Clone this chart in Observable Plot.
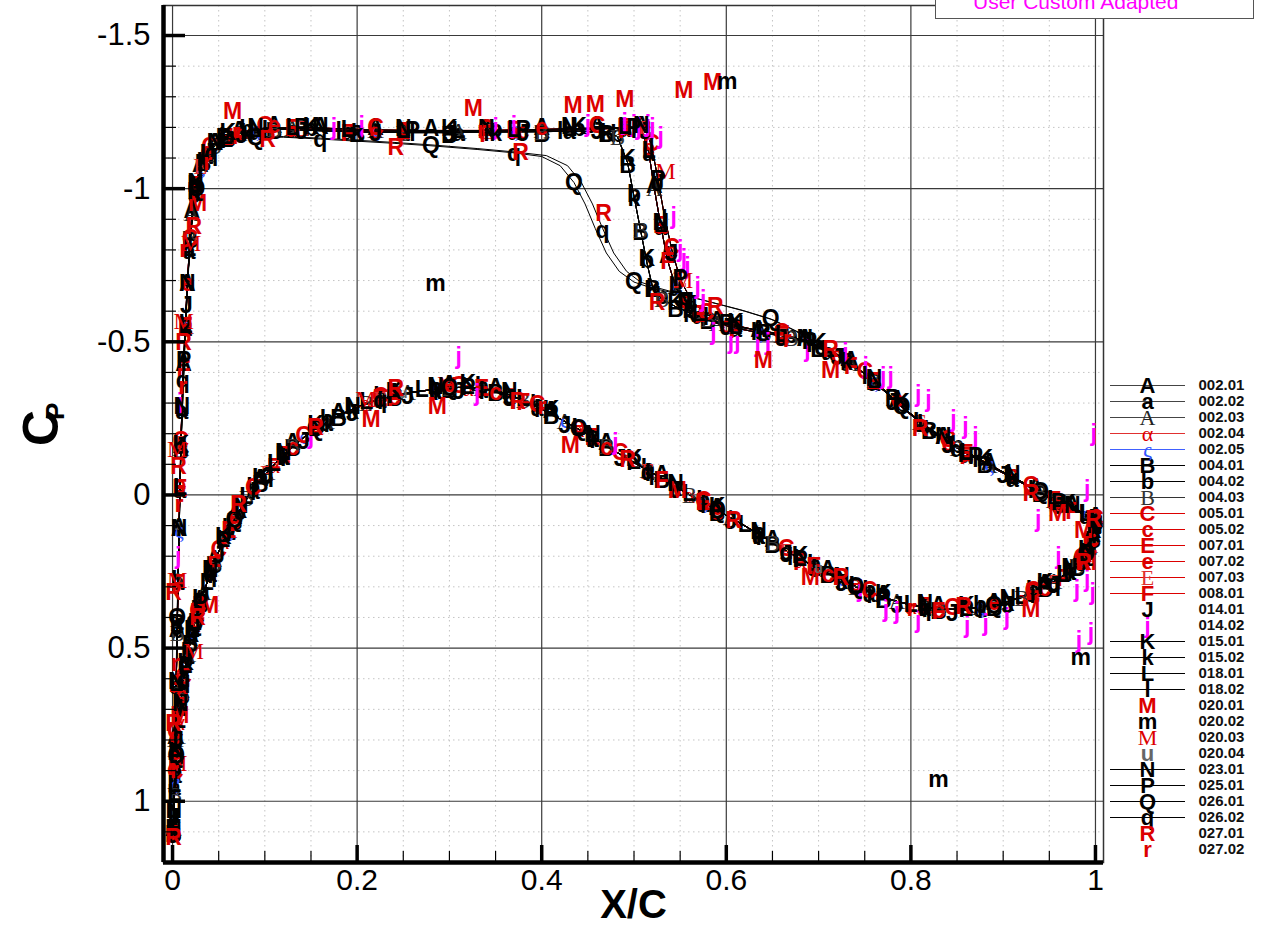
<!DOCTYPE html>
<html>
<head>
<meta charset="utf-8">
<script src="https://cdn.jsdelivr.net/npm/d3@7"></script>
<script src="https://cdn.jsdelivr.net/npm/@observablehq/plot@0.6"></script>
<style>
  html, body { margin: 0; padding: 0; background: #fff; }
  #wrap { position: relative; width: 1268px; height: 936px; overflow: hidden; font-family: "Liberation Sans", Arial, sans-serif; }
  #main { position: absolute; left: 0; top: 0; }
  #legend { position: absolute; left: 1104px; top: 360px; }
  #titlebox { position: absolute; left: 935px; top: -22px; width: 317px; height: 39px; border: 1.5px solid #555; background: #fff; }
  #titlebox span { position: absolute; left: 37px; top: 12px; font-size: 21px; line-height: 21px; color: #ff00ff; white-space: nowrap; }
</style>
</head>
<body>
<div id="wrap">
  <div id="main"></div>
  <div id="titlebox"><span>User Custom Adapted</span></div>
  <div id="legend"></div>
</div>
<script>
// ---- Axis ticks ----
const xMajor = [0, 0.2, 0.4, 0.6, 0.8, 1];
const yMajor = [-1.5, -1, -0.5, 0, 0.5, 1];
const xMinor = d3.range(0, 21).filter(k => k % 4 !== 0).map(k => k / 20);
const yMinor = d3.range(-15, 12).filter(k => k % 5 !== 0).map(k => k / 10);
const xDomain = [-0.0098, 1.0087];
const yDomain = [1.2, -1.598];

// ---- Data zones ----
const seriesNames = ["002.01","002.02","002.03","002.04","002.05","004.01","004.02","004.03","005.01","005.02",
  "007.01","007.02","007.03","008.01","014.01","014.02","015.01","015.02","018.01","018.02",
  "020.01","020.02","020.03","020.04","023.01","025.01","026.01","026.02","027.01","027.02"];
const seriesGlyphs = ["A","a","A","α","ς","B","b","B","C","c","E","e","E","F","J","j","K","k","L","l",
  "M","m","M","u","N","P","Q","q","R","r"];

// upper surface, shock near x/c = 0.52
const upperMainX = [0.001,0.002,0.003,0.004,0.005,0.006,0.007,0.008,0.009,0.010,0.012,0.014,0.016,0.018,0.021,0.025,0.030,0.037,0.046,0.058,0.072,0.09,0.11,0.13,0.16,0.19,0.22,0.25,0.28,0.31,0.34,0.37,0.40,0.43,0.46,0.49,0.508,0.516,0.522,0.529,0.536,0.545,0.556,0.57,0.59,0.61,0.635,0.66,0.685,0.71,0.735,0.76,0.785,0.81,0.835,0.86,0.885,0.91,0.935,0.955,0.975,0.99,1.0];
const upperMainCp = [1.10,0.95,0.80,0.62,0.45,0.28,0.12,-0.02,-0.15,-0.28,-0.42,-0.55,-0.68,-0.80,-0.92,-1.01,-1.07,-1.11,-1.14,-1.165,-1.18,-1.19,-1.197,-1.196,-1.193,-1.19,-1.188,-1.187,-1.187,-1.186,-1.187,-1.188,-1.19,-1.192,-1.195,-1.198,-1.195,-1.12,-1.0,-0.88,-0.77,-0.68,-0.62,-0.59,-0.56,-0.545,-0.53,-0.52,-0.50,-0.47,-0.43,-0.37,-0.30,-0.235,-0.18,-0.135,-0.095,-0.055,-0.015,0.02,0.045,0.065,0.08];

// lower surface, two samplings
const lowerMainX = [0.001,0.002,0.004,0.007,0.010,0.014,0.019,0.024,0.030,0.037,0.045,0.055,0.067,0.08,0.095,0.11,0.13,0.155,0.18,0.21,0.24,0.27,0.30,0.32,0.35,0.38,0.41,0.44,0.47,0.50,0.53,0.56,0.59,0.62,0.65,0.68,0.71,0.74,0.77,0.80,0.83,0.86,0.89,0.92,0.945,0.965,0.98,0.99,0.997,1.0];
const lowerMainCp = [1.10,0.98,0.85,0.74,0.65,0.56,0.48,0.42,0.35,0.29,0.22,0.15,0.08,0.01,-0.045,-0.10,-0.16,-0.215,-0.26,-0.30,-0.325,-0.34,-0.35,-0.352,-0.342,-0.31,-0.265,-0.215,-0.16,-0.105,-0.055,0.0,0.05,0.10,0.155,0.21,0.255,0.30,0.335,0.36,0.372,0.374,0.36,0.335,0.30,0.265,0.23,0.19,0.14,0.08];
const lowerAltX = [0.0015,0.003,0.0055,0.0085,0.012,0.0165,0.0215,0.027,0.0335,0.041,0.05,0.061,0.0735,0.0875,0.1025,0.12,0.142,0.167,0.195,0.225,0.255,0.285,0.31,0.335,0.365,0.395,0.425,0.455,0.485,0.515,0.545,0.575,0.605,0.635,0.665,0.695,0.725,0.755,0.785,0.815,0.845,0.875,0.905,0.932,0.955,0.972,0.985,0.994,0.999];
const lowerAltCp = [1.04,0.91,0.79,0.69,0.60,0.52,0.45,0.385,0.32,0.255,0.185,0.115,0.045,-0.018,-0.073,-0.13,-0.188,-0.238,-0.28,-0.313,-0.333,-0.345,-0.351,-0.348,-0.327,-0.288,-0.24,-0.188,-0.133,-0.08,-0.028,0.025,0.075,0.128,0.183,0.233,0.278,0.318,0.348,0.366,0.374,0.368,0.348,0.318,0.283,0.248,0.21,0.165,0.11];

// upper surface, early shock (x/c ~ 0.44)
const upperEarlyX = [0.001,0.003,0.005,0.008,0.011,0.015,0.02,0.026,0.033,0.042,0.055,0.07,0.09,0.12,0.16,0.2,0.24,0.28,0.33,0.37,0.4,0.42,0.435,0.447,0.458,0.47,0.484,0.5,0.52,0.55,0.58,0.615,0.648,0.675,0.7,0.73,0.76,0.79,0.82,0.85,0.88,0.91,0.94,0.97,1.0];
const upperEarlyCp = [1.10,0.76,0.40,0.0,-0.36,-0.62,-0.86,-1.0,-1.07,-1.115,-1.145,-1.16,-1.168,-1.168,-1.162,-1.155,-1.148,-1.14,-1.128,-1.117,-1.105,-1.075,-1.02,-0.95,-0.87,-0.79,-0.73,-0.695,-0.675,-0.655,-0.632,-0.605,-0.575,-0.535,-0.49,-0.44,-0.372,-0.29,-0.215,-0.155,-0.105,-0.06,-0.01,0.04,0.08];
const upperEarly2X = [0.001,0.003,0.005,0.008,0.011,0.015,0.02,0.026,0.033,0.042,0.055,0.07,0.09,0.12,0.16,0.2,0.24,0.28,0.33,0.37,0.405,0.428,0.443,0.455,0.466,0.478,0.492,0.507,0.527,0.555,0.585,0.62,0.652,0.678,0.703,0.73,0.76,0.79,0.82,0.85,0.88,0.91,0.94,0.97,1.0];
const upperEarly2Cp = [1.10,0.74,0.38,-0.02,-0.38,-0.64,-0.87,-1.01,-1.075,-1.12,-1.15,-1.163,-1.17,-1.17,-1.165,-1.158,-1.151,-1.143,-1.131,-1.12,-1.108,-1.075,-1.02,-0.95,-0.87,-0.79,-0.73,-0.695,-0.675,-0.652,-0.628,-0.6,-0.57,-0.532,-0.488,-0.44,-0.372,-0.29,-0.215,-0.155,-0.105,-0.06,-0.01,0.04,0.08];

// upper surface, shock near x/c = 0.50
const upperMidX = [0.001,0.005,0.009,0.014,0.019,0.025,0.033,0.045,0.06,0.08,0.11,0.15,0.2,0.25,0.3,0.35,0.4,0.44,0.47,0.482,0.493,0.5,0.507,0.514,0.52,0.53,0.545,0.56,0.58,0.61,0.64,0.67,0.7,0.73,0.76,0.79,0.82,0.85,0.88,0.91,0.94,0.97,1.0];
const upperMidCp = [1.10,0.45,-0.15,-0.55,-0.84,-1.0,-1.09,-1.14,-1.17,-1.185,-1.195,-1.19,-1.185,-1.183,-1.183,-1.185,-1.186,-1.188,-1.185,-1.17,-1.085,-0.975,-0.866,-0.758,-0.68,-0.64,-0.615,-0.595,-0.575,-0.55,-0.535,-0.515,-0.485,-0.44,-0.375,-0.29,-0.215,-0.155,-0.105,-0.06,-0.01,0.04,0.08];

// upper surface, shock near x/c = 0.53
const upperLateX = [0.001,0.003,0.005,0.007,0.009,0.012,0.015,0.019,0.024,0.03,0.04,0.055,0.075,0.1,0.14,0.18,0.22,0.26,0.3,0.34,0.38,0.42,0.46,0.5,0.512,0.519,0.526,0.533,0.541,0.55,0.562,0.578,0.6,0.63,0.66,0.69,0.72,0.75,0.78,0.81,0.84,0.87,0.9,0.93,0.96,0.985,1.0];
const upperLateCp = [1.10,0.78,0.42,0.10,-0.17,-0.44,-0.63,-0.83,-0.99,-1.075,-1.13,-1.165,-1.185,-1.198,-1.2,-1.196,-1.192,-1.19,-1.19,-1.19,-1.192,-1.195,-1.198,-1.2,-1.2,-1.14,-1.03,-0.91,-0.8,-0.705,-0.635,-0.59,-0.56,-0.54,-0.525,-0.5,-0.46,-0.395,-0.315,-0.24,-0.175,-0.125,-0.075,-0.025,0.025,0.055,0.085];

// scattered zones (symbols only)
const jX = [0.175,0.205,0.35,0.37,0.45,0.49,0.5,0.505,0.515,0.52,0.529,0.543,0.55,0.554,0.558,0.569,0.575,0.586,0.605,0.612,0.634,0.645,0.688,0.729,0.751,0.77,0.778,0.808,0.819,0.846,0.859,0.87,0.938,0.96,0.98,0.991,0.997,0.998,0.991,0.982,0.995,0.745,0.773,0.785,0.808,0.861,0.881,0.904,0.31,0.15,0.48,0.33,0.006,0.008];
const jCp = [-1.2,-1.205,-1.2,-1.205,-1.21,-1.215,-1.21,-1.2,-1.21,-1.2,-1.17,-0.91,-0.8,-0.77,-0.745,-0.68,-0.637,-0.53,-0.5,-0.5,-0.49,-0.497,-0.474,-0.464,-0.418,-0.386,-0.386,-0.327,-0.31,-0.245,-0.222,-0.19,0.082,0.2,0.31,0.278,0.32,-0.2,-0.016,0.474,0.45,0.31,0.376,0.38,0.41,0.425,0.42,0.4,-0.45,-0.19,-0.17,-0.33,0.2,-0.3];

const mBigX = [0.027,0.065,0.326,0.434,0.458,0.49,0.554,0.585,0.64,0.713,0.215,0.287,0.431,0.547,0.691,0.959,0.987,0.991,0.93,0.008,0.04];
const mBigCp = [-0.95,-1.25,-1.26,-1.27,-1.275,-1.29,-1.32,-1.345,-0.44,-0.405,-0.245,-0.29,-0.16,-0.015,0.27,0.06,0.115,0.22,0.376,0.72,0.36];

const mSmallX = [0.601,0.285,0.83,0.984];
const mSmallCp = [-1.35,-0.69,0.93,0.53];

const mSerifX = [0.534,0.553,0.209,0.298,0.012,0.005,0.005,0.023,0.005,0.02];
const mSerifCp = [-1.055,-0.7,-0.31,-0.36,-0.565,-0.147,0.28,0.51,0.876,-0.82];

const uX = [0.004,0.25,0.7];
const uCp = [0.1,-0.33,0.24];

const rBigX = [0.023,0.012,0.0065,0.103,0.242,0.377,0.467,0.525,0.588,0.713,0.81,0.93,0.998,0.0715,0.155,0.242,0.374,0.493,0.608,0.724,0.857,0.987,0.001,0.027,0.001,0.001];
const rBigCp = [-0.876,-0.497,-0.092,-1.16,-1.135,-1.118,-0.92,-0.627,-0.615,-0.474,-0.215,-0.005,0.08,0.033,-0.22,-0.346,-0.304,-0.114,0.085,0.27,0.366,0.22,0.32,0.4,0.745,1.12];

const rSmallX = [0.038,0.012,0.011,0.007,0.003,0.002,0.666,0.335,0.4,0.8];
const rSmallCp = [-1.085,-0.8,-0.353,0.03,0.55,0.9,-0.506,-1.19,-0.29,0.37];

// ---- Drawing styles per zone (fill, font, line colour, which curves, symbol spacing, pixel nudge) ----
const RED = "#dc0000", MAG = "#ff00ff", BLUE = "#3355ff";
const SANS = "Liberation Sans, Arial, sans-serif";
const SERIF = "Liberation Serif, Times New Roman, serif";
const zoneStyle = {
  "002.01": {fill: "#000", font: "sans", line: "#444", curve: "main", lower: "main", stride: 2, off: 0, nudge: -3},
  "002.02": {fill: "#000", font: "sans", line: "#444", curve: "main", lower: "alt", stride: 2, off: 1, nudge: 2},
  "002.03": {fill: "#222", font: "serif", line: "#444", curve: "main", lower: "alt", stride: 3, off: 2, nudge: 0},
  "002.04": {fill: RED, font: "serif", line: "#e03030", curve: "main", lower: "main", stride: 4, off: 3, nudge: 1},
  "002.05": {fill: BLUE, font: "serif", line: "#4060ff", curve: "main", lower: "alt", stride: 5, off: 1, nudge: -1},
  "004.01": {fill: "#000", font: "sans", line: "#000", curve: "mid", lower: "main", stride: 2, off: 0, nudge: 3},
  "004.02": {fill: "#000", font: "sans", line: "#000", curve: "mid", lower: "alt", stride: 2, off: 1, nudge: -2},
  "004.03": {fill: "#333", font: "serif", line: "#333", curve: "mid", lower: "main", stride: 3, off: 1, nudge: 1},
  "005.01": {fill: RED, font: "sans", line: RED, curve: "late", lower: "alt", stride: 3, off: 1, nudge: -2},
  "005.02": {fill: RED, font: "sans", line: RED, curve: "late", lower: "main", stride: 4, off: 0, nudge: 2},
  "007.01": {fill: RED, font: "sans", line: RED, curve: "main", lower: "alt", stride: 4, off: 3, nudge: 0},
  "007.02": {fill: RED, font: "sans", line: RED, curve: "main", lower: "main", stride: 5, off: 2, nudge: -3},
  "007.03": {fill: "#e03030", font: "serif", line: RED, curve: "late", lower: "alt", stride: 5, off: 4, nudge: 1},
  "008.01": {fill: RED, font: "sans", line: RED, curve: "main", lower: "main", stride: 5, off: 0, nudge: 3},
  "014.01": {fill: "#000", font: "sans", line: null, curve: "late", lower: "alt", stride: 2, off: 0, nudge: 4},
  "014.02": {fill: MAG, font: "sans", line: null, xs: jX, cps: jCp},
  "015.01": {fill: "#000", font: "sans", line: "#000", curve: "mid", lower: "main", stride: 3, off: 2, nudge: -4},
  "015.02": {fill: "#000", font: "sans", line: "#000", curve: "mid", lower: "alt", stride: 3, off: 0, nudge: 2},
  "018.01": {fill: "#000", font: "sans", line: "#000", curve: "main", lower: "main", stride: 2, off: 1, nudge: -1},
  "018.02": {fill: "#000", font: "sans", line: "#000", curve: "late", lower: "alt", stride: 2, off: 1, nudge: 3},
  "020.01": {fill: RED, font: "sans", line: null, xs: mBigX, cps: mBigCp},
  "020.02": {fill: "#000", font: "sans", line: null, xs: mSmallX, cps: mSmallCp},
  "020.03": {fill: RED, font: "serif", line: null, xs: mSerifX, cps: mSerifCp},
  "020.04": {fill: "#666", font: "sans", line: null, xs: uX, cps: uCp, size: 14},
  "023.01": {fill: "#000", font: "sans", line: "#000", curve: "main", lower: "alt", stride: 3, off: 0, nudge: -3},
  "025.01": {fill: "#000", font: "sans", line: "#000", curve: "late", lower: "main", stride: 3, off: 2, nudge: 0},
  "026.01": {fill: "#000", font: "sans", line: "#000", curve: "early", lower: "main", stride: 5, off: 2, nudge: 0},
  "026.02": {fill: "#000", font: "sans", line: "#000", curve: "early2", lower: "alt", stride: 5, off: 4, nudge: 2},
  "027.01": {fill: RED, font: "sans", line: null, xs: rBigX, cps: rBigCp},
  "027.02": {fill: RED, font: "sans", line: null, xs: rSmallX, cps: rSmallCp}
};

const upperCurves = {
  main: [upperMainX, upperMainCp], early: [upperEarlyX, upperEarlyCp], early2: [upperEarly2X, upperEarly2Cp],
  mid: [upperMidX, upperMidCp], late: [upperLateX, upperLateCp]
};
const lowerCurves = {main: [lowerMainX, lowerMainCp], alt: [lowerAltX, lowerAltCp]};
const toPoints = ([xs, cps]) => xs.map((x, i) => ({x, cp: cps[i], i}));

const W = 1268, H = 936, ML = 163, MR = 165, MT = 5, MB = 74;
const innerW = W - ML - MR, innerH = H - MT - MB;

const lineMarks = [], glyphMarks = [];
seriesNames.forEach((name, s) => {
  const st = zoneStyle[name];
  const glyph = seriesGlyphs[s];
  const textOpts = {
    x: "x", y: "cp", text: () => glyph, fill: st.fill,
    fontSize: st.size || 23,
    dy: st.nudge || 0,
    fontFamily: st.font === "serif" ? SERIF : SANS,
    fontWeight: st.font === "serif" ? "normal" : "bold"
  };
  if (st.curve) {
    const up = toPoints(upperCurves[st.curve]);
    const lo = toPoints(lowerCurves[st.lower]);
    if (st.line) {
      lineMarks.push(Plot.line(up, {x: "x", y: "cp", stroke: st.line, strokeWidth: 1}));
      lineMarks.push(Plot.line(lo, {x: "x", y: "cp", stroke: st.line, strokeWidth: 1}));
    }
    const pick = d => d.i % st.stride === st.off;
    glyphMarks.push(Plot.text(up.filter(pick).concat(lo.filter(pick)), textOpts));
  } else {
    glyphMarks.push(Plot.text(toPoints([st.xs, st.cps]), textOpts));
  }
});

const chart = Plot.plot({
  width: W, height: H,
  marginLeft: ML, marginRight: MR, marginTop: MT, marginBottom: MB,
  x: {domain: xDomain, axis: null},
  y: {domain: yDomain, axis: null},
  style: {fontFamily: SANS, background: "transparent", overflow: "visible"},
  marks: [
    Plot.ruleX(xMinor, {stroke: "#c4c4c4", strokeDasharray: "1.5,3.5"}),
    Plot.ruleY(yMinor, {stroke: "#c4c4c4", strokeDasharray: "1.5,3.5"}),
    Plot.ruleX(xMajor, {stroke: "#3a3a3a", strokeWidth: 1.2}),
    Plot.ruleY(yMajor, {stroke: "#3a3a3a", strokeWidth: 1.2}),
    ...lineMarks,
    ...glyphMarks,
    Plot.frame({stroke: "#333", strokeWidth: 1.5}),
    Plot.tickX(xMinor, {x: d => d, insetTop: innerH - 11, stroke: "#000", strokeWidth: 1.2}),
    Plot.tickX(xMajor, {x: d => d, insetTop: innerH - 17, stroke: "#000", strokeWidth: 3.5}),
    Plot.tickY(yMinor, {y: d => d, insetRight: innerW - 13, stroke: "#000", strokeWidth: 1.2}),
    Plot.tickY(yMajor, {y: d => d, insetRight: innerW - 22, stroke: "#000", strokeWidth: 3.5}),
    Plot.ruleX([xDomain[0]], {stroke: "#000", strokeWidth: 4.5}),
    Plot.ruleY([yDomain[0]], {stroke: "#000", strokeWidth: 4.5}),
    Plot.text(xMajor, {x: d => d, text: d => String(d), frameAnchor: "bottom", dy: 27, fontSize: 30, fill: "#000"}),
    Plot.text(yMajor, {y: d => d, text: d => String(d), frameAnchor: "left", dx: -13, textAnchor: "end", fontSize: 31, fill: "#000"}),
    Plot.text(["X/C"], {text: d => d, frameAnchor: "bottom", dy: 55, fontSize: 40, fontWeight: "bold", fill: "#000"}),
    Plot.text(["C"], {text: d => d, frameAnchor: "left", dx: -122, dy: 12, rotate: -90, fontSize: 50, fontWeight: "bold", fill: "#000"}),
    Plot.text(["P"], {text: d => d, frameAnchor: "left", dx: -108, dy: -14, rotate: -90, fontSize: 26, fontWeight: "bold", fill: "#000"})
  ]
});
document.getElementById("main").appendChild(chart);

// ---- Legend ----
const legendRows = seriesNames.map((name, s) => ({name, glyph: seriesGlyphs[s], ...zoneStyle[name]}));
const legendGlyph = (font) => Plot.text(legendRows.filter(d => d.font === font), {
  x: 43, y: "name", text: "glyph", fill: "fill",
  fontSize: 22, fontFamily: font === "serif" ? SERIF : SANS, fontWeight: font === "serif" ? "normal" : "bold"
});
const legend = Plot.plot({
  width: 164, height: 510, margin: 0,
  x: {domain: [0, 164], range: [0, 164], axis: null},
  y: {type: "point", domain: seriesNames, range: [15, 498], axis: null},
  color: {type: "identity"},
  style: {fontFamily: SANS, background: "transparent", overflow: "visible"},
  marks: [
    Plot.ruleY(legendRows.filter(d => d.line), {y: "name", x1: 6, x2: 81, stroke: "line", strokeWidth: 1.2}),
    legendGlyph("sans"),
    legendGlyph("serif"),
    Plot.text(legendRows, {x: 94, y: "name", text: "name", textAnchor: "start", fontSize: 15, fontWeight: "bold", fill: "#111"})
  ]
});
document.getElementById("legend").appendChild(legend);
</script>
</body>
</html>
